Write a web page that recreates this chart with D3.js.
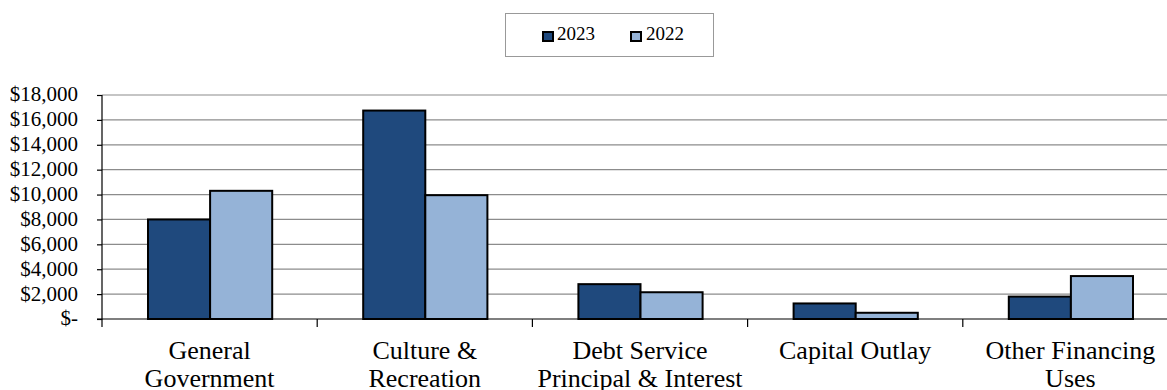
<!DOCTYPE html>
<html>
<head>
<meta charset="utf-8">
<script src="https://cdn.jsdelivr.net/npm/d3@7"></script>
<style>
  body { margin: 0; background: #fff; }
  #chart { position: relative; width: 1167px; height: 390px; overflow: hidden; }
  #chart svg { position: absolute; left: 0; top: 0; }
  .lbl { position: absolute; font-family: "Liberation Serif", "Times New Roman", serif; color: #000; white-space: nowrap; }
</style>
</head>
<body>
<div id="chart"></div>
<script>
// data
var categories = [
  ["General", "Government"],
  ["Culture &", "Recreation"],
  ["Debt Service", "Principal & Interest"],
  ["Capital Outlay"],
  ["Other Financing", "Uses"]
];
var seriesNames = ["2023", "2022"];
var values2023 = [8000, 16750, 2800, 1250, 1800];
var values2022 = [10300, 9950, 2150, 500, 3450];
var yTicks = [0, 2000, 4000, 6000, 8000, 10000, 12000, 14000, 16000, 18000];

var colors = { "2023": "#1f497d", "2022": "#95b3d7" };

var W = 1167, H = 390;
var margin = { top: 95, left: 102 };
var plotW = 1076, plotH = 224;

var chart = d3.select("#chart");
var svg = chart.append("svg").attr("width", W).attr("height", H);

var g = svg.append("g").attr("transform", `translate(${margin.left}, ${margin.top})`);

var idx = d3.range(categories.length);
var x = d3.scaleBand().domain(idx).range([0, plotW]).paddingInner(0).paddingOuter(0);
var xs = d3.scaleBand().domain(seriesNames).range([46, x.bandwidth() - 45]);
var y = d3.scaleLinear().domain([0, 18000]).range([plotH, 0]);

// gridlines
g.append("g").selectAll("line").data(yTicks.slice(1)).join("line")
  .attr("x1", 0).attr("x2", plotW)
  .attr("y1", d => y(d)).attr("y2", d => y(d))
  .attr("stroke", "#8c8c8c").attr("stroke-width", 1.2);

// bars
var rows = idx.map(i => ({ i: i, vals: [
  { s: "2023", v: values2023[i] },
  { s: "2022", v: values2022[i] }
]}));

g.append("g").selectAll("g").data(rows).join("g")
  .attr("transform", d => `translate(${x(d.i)},0)`)
  .selectAll("rect").data(d => d.vals).join("rect")
  .attr("x", d => xs(d.s))
  .attr("y", d => y(d.v))
  .attr("width", xs.bandwidth())
  .attr("height", d => plotH - y(d.v))
  .attr("fill", d => colors[d.s])
  .attr("stroke", "#000").attr("stroke-width", 2);

// y axis (tick marks only, labels are html below)
var yAxis = d3.axisLeft(y).tickValues(yTicks).tickSize(5).tickFormat("");
var ya = g.append("g").call(yAxis);
ya.select(".domain").attr("stroke", "#000").attr("stroke-width", 1.2).attr("d", `M-5,0.5H0V${plotH}H-5`);
ya.selectAll("line").attr("stroke", "#000").attr("stroke-width", 1.2);
ya.selectAll("text").remove();

// x axis line and ticks
g.append("line").attr("x1", 0).attr("x2", plotW).attr("y1", plotH).attr("y2", plotH)
  .attr("stroke", "#000").attr("stroke-width", 1.2);
g.append("g").selectAll("line").data(d3.range(categories.length + 1)).join("line")
  .attr("x1", d => d * x.bandwidth()).attr("x2", d => d * x.bandwidth())
  .attr("y1", plotH).attr("y2", plotH + 8)
  .attr("stroke", "#000").attr("stroke-width", 1.2);

// y tick labels
chart.selectAll("div.ytick").data(yTicks).join("div")
  .attr("class", "lbl ytick")
  .style("left", "0px").style("width", "78px").style("text-align", "right")
  .style("top", d => (margin.top + y(d) - 12.6) + "px")
  .style("font-size", "21px").style("line-height", "24px")
  .text(d => d === 0 ? "$-" : "$" + d3.format(",")(d));

// category labels
chart.selectAll("div.xcat").data(idx).join("div")
  .attr("class", "lbl xcat")
  .style("left", i => (margin.left + x(i)) + "px")
  .style("width", x.bandwidth() + "px").style("text-align", "center")
  .style("top", "337px")
  .style("font-size", "26px").style("line-height", "28px")
  .html(i => categories[i].map(s => s.replace("&", "&amp;")).join("<br>"));

// legend
var leg = svg.append("g").attr("transform", "translate(505,13)");
leg.append("rect").attr("x", 0.5).attr("y", 0.5).attr("width", 208).attr("height", 43)
  .attr("fill", "#fff").attr("stroke", "#999").attr("stroke-width", 1);
leg.selectAll("rect.sw").data(seriesNames).join("rect")
  .attr("class", "sw")
  .attr("x", (d, k) => 38 + k * 88).attr("y", 19)
  .attr("width", 10).attr("height", 9)
  .attr("fill", d => colors[d]).attr("stroke", "#000").attr("stroke-width", 2);
chart.selectAll("div.legtxt").data(seriesNames).join("div")
  .attr("class", "lbl legtxt")
  .style("left", (d, k) => (557 + k * 89) + "px")
  .style("top", "22.6px")
  .style("font-size", "19px").style("line-height", "22px")
  .text(d => d);
</script>
</body>
</html>
